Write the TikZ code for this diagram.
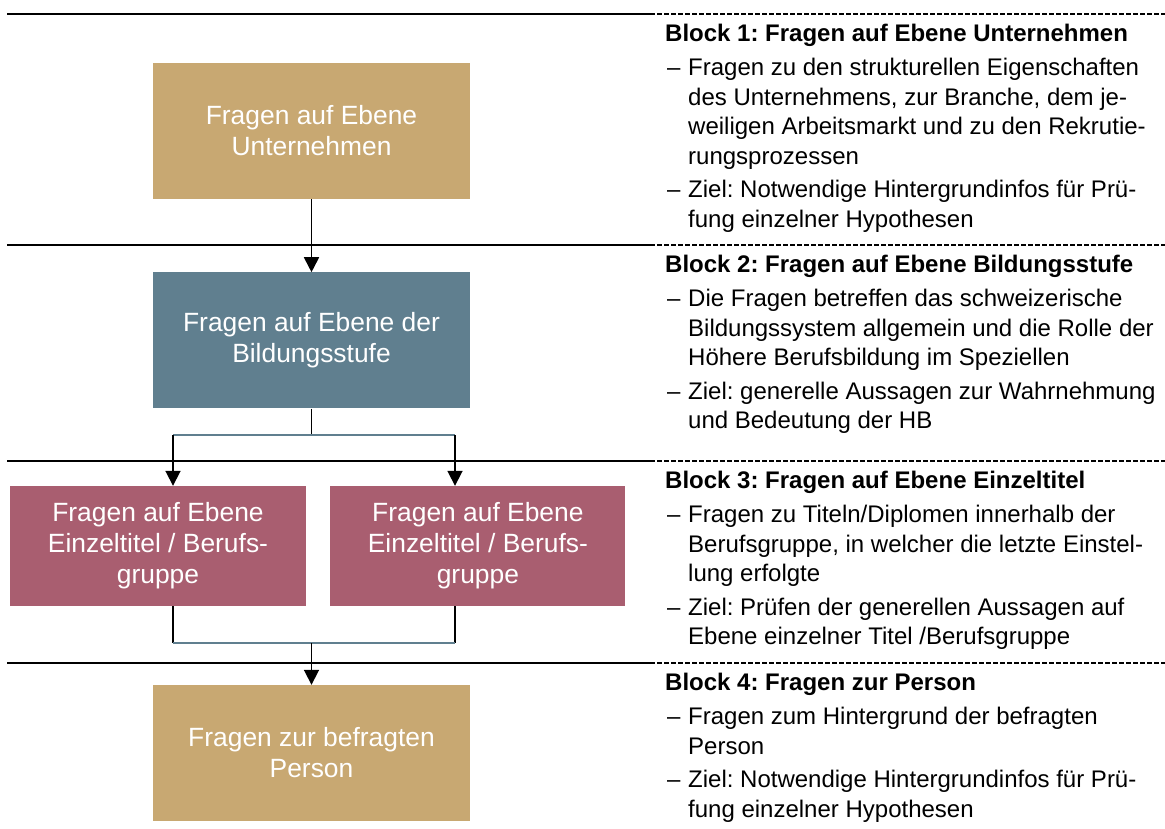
\documentclass[tikz,border=0pt]{standalone}
\usepackage{fontspec}
\setmainfont{Liberation Sans}
\usetikzlibrary{arrows.meta,positioning}

\definecolor{boxsand}{HTML}{C8A872}
\definecolor{boxslate}{HTML}{607F8F}
\definecolor{boxrose}{HTML}{A95E70}

\begin{document}
\frenchspacing
\begin{tikzpicture}[%
    x=1pt, y=-1pt,                      % pixel-like units, y grows downward
    >={Triangle[width=15pt,length=15pt]},
    node distance=73pt and 24pt,
    ]
% -------------------------------------------------
% Box, connector and text styles
\tikzset{
  base/.style={inner sep=2pt, align=center, text=white,
    font=\fontsize{26.4}{31}\selectfont},
  big/.style={base, minimum width=317pt, minimum height=136pt},
  small/.style={base, minimum width=296pt, minimum height=120pt},
  link/.style={->, line width=1.8pt, black},
  plain/.style={line width=1.8pt, black},
  fork/.style={line width=1.8pt, boxslate},
  sep/.style={line width=2.6pt, black},
  sepdash/.style={line width=2.6pt, black, dash pattern=on 5pt off 2pt},
  txt/.style={anchor=base west, inner sep=0pt,
    font=\fontsize{24}{29.5}\selectfont},
  hd/.style={txt, font=\fontsize{24}{29.5}\selectfont\bfseries}
}
\useasboundingbox (0,0) rectangle (1165,828);
% -------------------------------------------------
% Separators between the four blocks
\draw[sep] (7,14) -- (650,14);   \draw[sepdash] (650,14) -- (1165,14);
\draw[sep] (7,245) -- (650,245); \draw[sepdash] (650,245) -- (1165,245);
\draw[sep] (7,461) -- (650,461); \draw[sepdash] (650,461) -- (1165,461);
\draw[sep] (7,663) -- (650,663); \draw[sepdash] (650,663) -- (1165,663);

% -------------------------------------------------
% Boxes on the left
\node [big, fill=boxsand] (unt) at (311.5,131) {\rule{0pt}{6pt}Fragen auf Ebene\\Unternehmen};
\node [big, fill=boxslate, below = of unt] (bild) {\rule{0pt}{6pt}Fragen auf Ebene der\\Bildungsstufe};
\node [small, fill=boxrose] (titA) at (158,546) {Fragen auf Ebene\\Einzeltitel / Berufs-\\gruppe};
\node [small, fill=boxrose, minimum width=295pt, right = of titA] (titB) {Fragen auf Ebene\\Einzeltitel / Berufs-\\gruppe};
\node [big, fill=boxsand] (pers) at (311.5,753) {\rule{0pt}{6pt}Fragen zur befragten\\Person};

% Branch points
\coordinate (splitL) at (173,435);
\coordinate (splitR) at (455,435);
\coordinate (joinL) at (173,643);
\coordinate (joinR) at (455,643);

% Connectors
\draw [link] (unt) -- (bild);
\draw [plain] (bild.south) -- (bild.south |- splitL);
\draw [fork] (splitL) -- (splitR);
\draw [link] (splitL) -- (splitL |- titA.north);
\draw [link] (splitR) -- (splitR |- titB.north);
\draw [plain] (joinL |- titA.south) -- (joinL);
\draw [plain] (joinR |- titB.south) -- (joinR);
\draw [fork] (joinL) -- (joinR);
\draw [link] (pers.north |- joinL) -- (pers.north);

% -------------------------------------------------
% Block 1
\node [hd] (h1) at (665,41.5) {Block 1: Fragen auf Ebene Unternehmen};
\node [txt] (d1a) at (667,75.5) {–};
\node [txt] (t1a) at (688,75.5) {Fragen zu den strukturellen Eigenschaften};
\node [txt] (t1b) at (688,105) {des Unternehmens, zur Branche, dem je-};
\node [txt] (t1c) at (688,134.5) {weiligen Arbeitsmarkt und zu den Rekrutie-};
\node [txt] (t1d) at (688,164) {rungsprozessen};
\node [txt] (d1b) at (667,197.5) {–};
\node [txt] (t1e) at (688,197.5) {Ziel: Notwendige Hintergrundinfos für Prü-};
\node [txt] (t1f) at (688,227) {fung einzelner Hypothesen};

% Block 2
\node [hd] (h2) at (665,272.5) {Block 2: Fragen auf Ebene Bildungsstufe};
\node [txt] (d2a) at (667,306.5) {–};
\node [txt] (t2a) at (688,306.5) {Die Fragen betreffen das schweizerische};
\node [txt] (t2b) at (688,336) {Bildungssystem allgemein und die Rolle der};
\node [txt] (t2c) at (688,365.5) {Höhere Berufsbildung im Speziellen};
\node [txt] (d2b) at (667,399) {–};
\node [txt] (t2d) at (688,399) {Ziel: generelle Aussagen zur Wahrnehmung};
\node [txt] (t2e) at (688,428.5) {und Bedeutung der HB};

% Block 3
\node [hd] (h3) at (665,488.5) {Block 3: Fragen auf Ebene Einzeltitel};
\node [txt] (d3a) at (667,522.5) {–};
\node [txt] (t3a) at (688,522.5) {Fragen zu Titeln/Diplomen innerhalb der};
\node [txt] (t3b) at (688,552) {Berufsgruppe, in welcher die letzte Einstel-};
\node [txt] (t3c) at (688,581.5) {lung erfolgte};
\node [txt] (d3b) at (667,615) {–};
\node [txt] (t3d) at (688,615) {Ziel: Prüfen der generellen Aussagen auf};
\node [txt] (t3e) at (688,644.5) {Ebene einzelner Titel /Berufsgruppe};

% Block 4
\node [hd] (h4) at (665,690.5) {Block 4: Fragen zur Person};
\node [txt] (d4a) at (667,724.5) {–};
\node [txt] (t4a) at (688,724.5) {Fragen zum Hintergrund der befragten};
\node [txt] (t4b) at (688,754) {Person};
\node [txt] (d4b) at (667,787.5) {–};
\node [txt] (t4c) at (688,787.5) {Ziel: Notwendige Hintergrundinfos für Prü-};
\node [txt] (t4d) at (688,817) {fung einzelner Hypothesen};
% -------------------------------------------------
\end{tikzpicture}
\end{document}
